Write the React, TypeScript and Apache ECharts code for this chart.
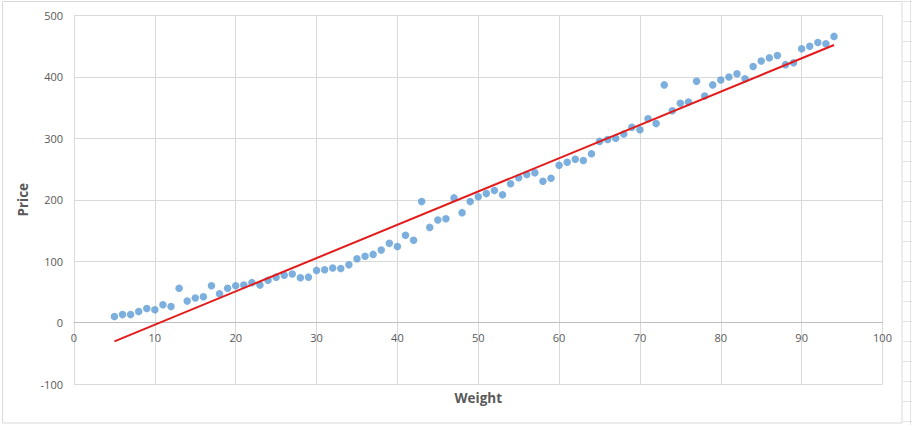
import React, { useEffect, useRef } from "react";
import * as echarts from "echarts";

const weights: number[] = [
  5, 6, 7, 8, 9, 10, 11, 12, 13, 14, 15, 16, 17, 18, 19, 20, 21, 22, 23, 24,
  25, 26, 27, 28, 29, 30, 31, 32, 33, 34, 35, 36, 37, 38, 39, 40, 41, 42, 43, 44,
  45, 46, 47, 48, 49, 50, 51, 52, 53, 54, 55, 56, 57, 58, 59, 60, 61, 62, 63, 64,
  65, 66, 67, 68, 69, 70, 71, 72, 73, 74, 75, 76, 77, 78, 79, 80, 81, 82, 83, 84,
  85, 86, 87, 88, 89, 90, 91, 92, 93, 94,
];

const prices: number[] = [
  10, 13, 13, 18, 23, 21, 29, 26, 56, 35, 40, 42, 60, 47, 56, 60, 61, 65, 61, 69,
  74, 77, 79, 73, 74, 85, 86, 89, 88, 94, 104, 108, 111, 118, 129, 124, 142, 134, 197, 155,
  167, 169, 203, 179, 197, 205, 210, 215, 208, 226, 236, 241, 244, 230, 235, 256, 261, 266, 264, 275,
  295, 298, 300, 307, 318, 314, 332, 324, 387, 345, 357, 359, 393, 369, 387, 395, 400, 405, 397, 417,
  426, 431, 435, 420, 423, 446, 450, 456, 454, 466,
];

// Linear trend line endpoints
const trendX: number[] = [5, 94];
const trendY: number[] = [-30.5, 452];

const xTicks = { min: 0, max: 100, interval: 10 };
const yTicks = { min: -100, max: 500, interval: 100 };

const GRID_TOP = 15.5;
const GRID_BOTTOM = 41;
const CHART_H = 425;

export default function App() {
  const ref = useRef<HTMLDivElement>(null);

  useEffect(() => {
    if (!ref.current) return;
    const chart = echarts.init(ref.current, null, { renderer: "svg" });
    const font = "'Open Sans', 'Liberation Sans', sans-serif";
    const plotH = CHART_H - GRID_TOP - GRID_BOTTOM;
    // shift the x axis up so it sits on the y = 0 line (as Excel draws it)
    const zeroOffset = -((0 - yTicks.min) / (yTicks.max - yTicks.min)) * plotH;
    const stripLines: any[] = [];
    for (let y = 1.5; y < 425; y += 20) {
      stripLines.push({
        type: "line",
        silent: true,
        shape: { x1: 903, y1: y, x2: 912, y2: y },
        style: { stroke: "#e3e3e3", lineWidth: 1 },
      });
    }
    chart.setOption({
      animation: false,
      backgroundColor: "#ffffff",
      textStyle: { fontFamily: font },
      grid: {
        left: 74,
        right: 29.5,
        top: GRID_TOP,
        bottom: GRID_BOTTOM,
        containLabel: false,
        outerBoundsMode: "none",
      },
      xAxis: {
        type: "value",
        min: xTicks.min,
        max: xTicks.max,
        interval: xTicks.interval,
        offset: zeroOffset,
        name: "Weight",
        nameLocation: "middle",
        nameGap: 68,
        nameTextStyle: { color: "#595959", fontSize: 13.5, fontWeight: "bold", fontFamily: font },
        axisLine: { show: true, onZero: false, lineStyle: { color: "#bfbfbf", width: 1 } },
        axisTick: { show: false },
        axisLabel: { color: "#595959", fontSize: 11, margin: 9, fontFamily: font },
        splitLine: { show: true, lineStyle: { color: "#d9d9d9", width: 1 } },
      },
      yAxis: {
        type: "value",
        min: yTicks.min,
        max: yTicks.max,
        interval: yTicks.interval,
        name: "Price",
        nameLocation: "middle",
        nameGap: 40,
        nameRotate: 90,
        nameTextStyle: { color: "#595959", fontSize: 13.5, fontWeight: "bold", fontFamily: font },
        axisLine: { show: true, onZero: false, lineStyle: { color: "#d9d9d9", width: 1 } },
        axisTick: { show: false },
        axisLabel: { color: "#595959", fontSize: 11, margin: 11, fontFamily: font },
        splitLine: { show: true, lineStyle: { color: "#d9d9d9", width: 1 } },
      },
      graphic: [
        {
          type: "rect",
          silent: true,
          shape: { x: 2.5, y: 1.5, width: 899.5, height: 421.5 },
          style: { fill: "none", stroke: "#d9d9d9", lineWidth: 1 },
          z: -1,
        },
        {
          type: "line",
          silent: true,
          shape: { x1: 910.5, y1: 0, x2: 910.5, y2: 425 },
          style: { stroke: "#e3e3e3", lineWidth: 1 },
        },
        ...stripLines,
      ],
      series: [
        {
          type: "scatter",
          name: "Price",
          data: weights.map((w, i) => [w, prices[i]]),
          symbol: "circle",
          symbolSize: 7.5,
          itemStyle: { color: "#5b9bd5" },
          z: 2,
        },
        {
          type: "line",
          name: "Linear (Price)",
          data: trendX.map((x, i) => [x, trendY[i]]),
          showSymbol: false,
          symbol: "none",
          lineStyle: { color: "#e31b1b", width: 2 },
          z: 3,
        },
      ],
    });
    return () => chart.dispose();
  }, []);

  return (
    <div
      ref={ref}
      style={{ position: "absolute", left: 0, top: 0, width: 912, height: 425 }}
    />
  );
}
